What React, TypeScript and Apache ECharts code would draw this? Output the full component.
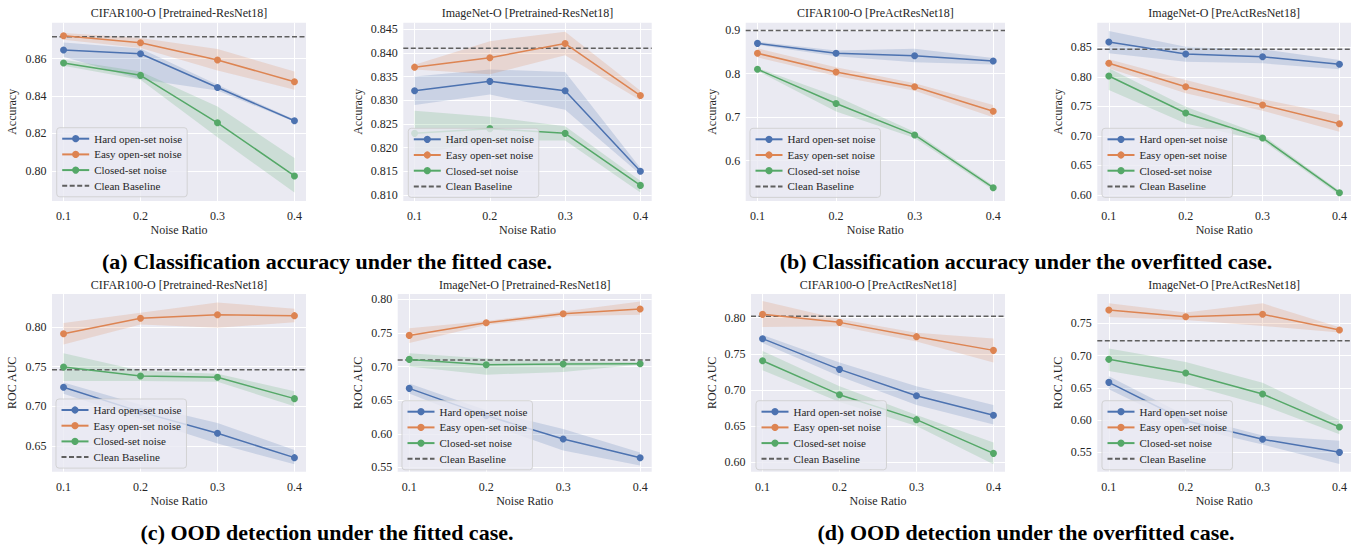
import React, { useEffect, useRef } from "react";
import * as echarts from "echarts";

const FONT = "'Liberation Serif', 'Times New Roman', serif";
const TEXT = "#262626";
const BLUE = "#4C72B0";
const ORANGE = "#DD8452";
const GREEN = "#55A868";
const BASE = "#5f5f5f";

// ---- shared data ----
const noiseRatios = [0.1, 0.2, 0.3, 0.4];
const xRange = [0.085, 0.415];
const hardName = "Hard open-set noise";
const easyName = "Easy open-set noise";
const closedName = "Closed-set noise";
const baselineName = "Clean Baseline";

// ---- (a) accuracy, fitted: CIFAR100-O [Pretrained-ResNet18] ----
const accFitCifarHard = [0.8647, 0.8627, 0.8446, 0.8268];
const accFitCifarHardBand = [[0.861, 0.8687], [0.849, 0.8655], [0.843, 0.846], [0.8262, 0.8274]];
const accFitCifarEasy = [0.8723, 0.8686, 0.8593, 0.8477];
const accFitCifarEasyBand = [[0.8702, 0.8738], [0.8657, 0.8711], [0.8537, 0.8652], [0.8434, 0.8532]];
const accFitCifarClosed = [0.8577, 0.8511, 0.8257, 0.7972];
const accFitCifarClosedBand = [[0.8562, 0.8595], [0.8487, 0.8532], [0.818, 0.8344], [0.7883, 0.8068]];
const accFitCifarBaseline = 0.8718;
const accFitCifarY = [0.7838, 0.8793];
const accFitCifarTicks = [0.8, 0.82, 0.84, 0.86];

// ---- (a) accuracy, fitted: ImageNet-O [Pretrained-ResNet18] ----
const accFitImgHard = [0.832, 0.834, 0.832, 0.815];
const accFitImgHardBand = [[0.829, 0.835], [0.8312, 0.8365], [0.828, 0.836], [0.8143, 0.8157]];
const accFitImgEasy = [0.837, 0.839, 0.842, 0.831];
const accFitImgEasyBand = [[0.8365, 0.8375], [0.8355, 0.8425], [0.8395, 0.8445], [0.83, 0.832]];
const accFitImgClosed = [0.823, 0.824, 0.823, 0.812];
const accFitImgClosedBand = [[0.8185, 0.8278], [0.8215, 0.8265], [0.8215, 0.8245], [0.8105, 0.813]];
const accFitImgBaseline = 0.841;
const accFitImgY = [0.8087, 0.8464];
const accFitImgTicks = [0.81, 0.815, 0.82, 0.825, 0.83, 0.835, 0.84, 0.845];

// ---- (b) accuracy, overfitted: CIFAR100-O [PreActResNet18] ----
const accOverCifarHard = [0.8694, 0.8465, 0.841, 0.8288];
const accOverCifarHardBand = [[0.866, 0.873], [0.84, 0.853], [0.826, 0.857], [0.821, 0.836]];
const accOverCifarEasy = [0.8465, 0.8037, 0.7698, 0.7137];
const accOverCifarEasyBand = [[0.8373, 0.858], [0.7945, 0.8144], [0.7607, 0.7776], [0.6996, 0.7279]];
const accOverCifarClosed = [0.8099, 0.7312, 0.6592, 0.538];
const accOverCifarClosedBand = [[0.806, 0.813], [0.713, 0.748], [0.652, 0.666], [0.533, 0.543]];
const accOverCifarBaseline = 0.899;
const accOverCifarY = [0.5075, 0.9168];
const accOverCifarTicks = [0.6, 0.7, 0.8, 0.9];

// ---- (b) accuracy, overfitted: ImageNet-O [PreActResNet18] ----
const accOverImgHard = [0.859, 0.8387, 0.8341, 0.8212];
const accOverImgHardBand = [[0.8398, 0.8776], [0.8256, 0.851], [0.8229, 0.8466], [0.8128, 0.8285]];
const accOverImgEasy = [0.8229, 0.7833, 0.7523, 0.7207];
const accOverImgEasyBand = [[0.8144, 0.8297], [0.7721, 0.7946], [0.7428, 0.762], [0.7071, 0.7354]];
const accOverImgClosed = [0.8014, 0.7388, 0.6965, 0.6039];
const accOverImgClosedBand = [[0.7777, 0.8145], [0.7212, 0.7494], [0.6919, 0.7015], [0.6, 0.6073]];
const accOverImgBaseline = 0.8466;
const accOverImgY = [0.5898, 0.8917];
const accOverImgTicks = [0.6, 0.65, 0.7, 0.75, 0.8, 0.85];

// ---- (c) OOD, fitted: CIFAR100-O [Pretrained-ResNet18] ----
const aucFitCifarHard = [0.724, 0.693, 0.666, 0.6353];
const aucFitCifarHardBand = [[0.716, 0.73], [0.684, 0.702], [0.653, 0.679], [0.627, 0.645]];
const aucFitCifarEasy = [0.7916, 0.811, 0.8155, 0.8143];
const aucFitCifarEasyBand = [[0.778, 0.805], [0.803, 0.818], [0.799, 0.831], [0.806, 0.823]];
const aucFitCifarClosed = [0.7496, 0.7382, 0.7366, 0.7097];
const aucFitCifarClosedBand = [[0.732, 0.767], [0.732, 0.745], [0.731, 0.741], [0.7, 0.719]];
const aucFitCifarBaseline = 0.7462;
const aucFitCifarY = [0.6176, 0.8416];
const aucFitCifarTicks = [0.65, 0.7, 0.75, 0.8];

// ---- (c) OOD, fitted: ImageNet-O [Pretrained-ResNet18] ----
const aucFitImgHard = [0.6676, 0.627, 0.5922, 0.5644];
const aucFitImgHardBand = [[0.66, 0.675], [0.615, 0.635], [0.575, 0.607], [0.553, 0.572]];
const aucFitImgEasy = [0.7464, 0.7653, 0.7787, 0.7856];
const aucFitImgEasyBand = [[0.735, 0.757], [0.762, 0.768], [0.775, 0.782], [0.777, 0.797]];
const aucFitImgClosed = [0.7107, 0.7028, 0.7038, 0.7043];
const aucFitImgClosedBand = [[0.7, 0.72], [0.688, 0.712], [0.692, 0.708], [0.703, 0.707]];
const aucFitImgBaseline = 0.7097;
const aucFitImgY = [0.5436, 0.808];
const aucFitImgTicks = [0.55, 0.6, 0.65, 0.7, 0.75, 0.8];

// ---- (d) OOD, overfitted: CIFAR100-O [PreActResNet18] ----
const aucOverCifarHard = [0.7709, 0.7284, 0.6919, 0.6647];
const aucOverCifarHardBand = [[0.765, 0.776], [0.719, 0.738], [0.679, 0.705], [0.652, 0.679]];
const aucOverCifarEasy = [0.8046, 0.7935, 0.7737, 0.7547];
const aucOverCifarEasyBand = [[0.787, 0.823], [0.788, 0.798], [0.767, 0.779], [0.738, 0.771]];
const aucOverCifarClosed = [0.7404, 0.6933, 0.6587, 0.612];
const aucOverCifarClosedBand = [[0.727, 0.754], [0.683, 0.705], [0.65, 0.665], [0.597, 0.627]];
const aucOverCifarBaseline = 0.8018;
const aucOverCifarY = [0.5866, 0.8328];
const aucOverCifarTicks = [0.6, 0.65, 0.7, 0.75, 0.8];

// ---- (d) OOD, overfitted: ImageNet-O [PreActResNet18] ----
const aucOverImgHard = [0.6585, 0.599, 0.5702, 0.55];
const aucOverImgHardBand = [[0.648, 0.668], [0.59, 0.607], [0.562, 0.576], [0.532, 0.568]];
const aucOverImgEasy = [0.7707, 0.7603, 0.764, 0.7397];
const aucOverImgEasyBand = [[0.76, 0.781], [0.755, 0.767], [0.746, 0.781], [0.736, 0.744]];
const aucOverImgClosed = [0.6942, 0.673, 0.6404, 0.5893];
const aucOverImgClosedBand = [[0.676, 0.711], [0.656, 0.69], [0.623, 0.658], [0.578, 0.6]];
const aucOverImgBaseline = 0.7231;
const aucOverImgY = [0.52, 0.7955];
const aucOverImgTicks = [0.55, 0.6, 0.65, 0.7, 0.75];

const panelTitles = [
  "CIFAR100-O [Pretrained-ResNet18]",
  "ImageNet-O [Pretrained-ResNet18]",
  "CIFAR100-O [PreActResNet18]",
  "ImageNet-O [PreActResNet18]",
  "CIFAR100-O [Pretrained-ResNet18]",
  "ImageNet-O [Pretrained-ResNet18]",
  "CIFAR100-O [PreActResNet18]",
  "ImageNet-O [PreActResNet18]",
];
const yAxisNames = ["Accuracy", "Accuracy", "Accuracy", "Accuracy", "ROC AUC", "ROC AUC", "ROC AUC", "ROC AUC"];
const tickDecimals = [2, 3, 1, 2, 2, 2, 2, 2];
const captions = [
  "(a) Classification accuracy under the fitted case.",
  "(b) Classification accuracy under the overfitted case.",
  "(c) OOD detection under the fitted case.",
  "(d) OOD detection under the overfitted case.",
];

const panels = [
  { hard: accFitCifarHard, hardBand: accFitCifarHardBand, easy: accFitCifarEasy, easyBand: accFitCifarEasyBand, closed: accFitCifarClosed, closedBand: accFitCifarClosedBand, baseline: accFitCifarBaseline, yRange: accFitCifarY, ticks: accFitCifarTicks },
  { hard: accFitImgHard, hardBand: accFitImgHardBand, easy: accFitImgEasy, easyBand: accFitImgEasyBand, closed: accFitImgClosed, closedBand: accFitImgClosedBand, baseline: accFitImgBaseline, yRange: accFitImgY, ticks: accFitImgTicks },
  { hard: accOverCifarHard, hardBand: accOverCifarHardBand, easy: accOverCifarEasy, easyBand: accOverCifarEasyBand, closed: accOverCifarClosed, closedBand: accOverCifarClosedBand, baseline: accOverCifarBaseline, yRange: accOverCifarY, ticks: accOverCifarTicks },
  { hard: accOverImgHard, hardBand: accOverImgHardBand, easy: accOverImgEasy, easyBand: accOverImgEasyBand, closed: accOverImgClosed, closedBand: accOverImgClosedBand, baseline: accOverImgBaseline, yRange: accOverImgY, ticks: accOverImgTicks },
  { hard: aucFitCifarHard, hardBand: aucFitCifarHardBand, easy: aucFitCifarEasy, easyBand: aucFitCifarEasyBand, closed: aucFitCifarClosed, closedBand: aucFitCifarClosedBand, baseline: aucFitCifarBaseline, yRange: aucFitCifarY, ticks: aucFitCifarTicks },
  { hard: aucFitImgHard, hardBand: aucFitImgHardBand, easy: aucFitImgEasy, easyBand: aucFitImgEasyBand, closed: aucFitImgClosed, closedBand: aucFitImgClosedBand, baseline: aucFitImgBaseline, yRange: aucFitImgY, ticks: aucFitImgTicks },
  { hard: aucOverCifarHard, hardBand: aucOverCifarHardBand, easy: aucOverCifarEasy, easyBand: aucOverCifarEasyBand, closed: aucOverCifarClosed, closedBand: aucOverCifarClosedBand, baseline: aucOverCifarBaseline, yRange: aucOverCifarY, ticks: aucOverCifarTicks },
  { hard: aucOverImgHard, hardBand: aucOverImgHardBand, easy: aucOverImgEasy, easyBand: aucOverImgEasyBand, closed: aucOverImgClosed, closedBand: aucOverImgClosedBand, baseline: aucOverImgBaseline, yRange: aucOverImgY, ticks: aucOverImgTicks },
];

// ---- layout (positions only) ----
const layouts = [
  { left: 52, top: 22.7, width: 254, height: 178.3, yNameGap: 34, legendLeft: 56.7, legendTop: 127.7 },
  { left: 403.3, top: 22.7, width: 248.4, height: 178.3, yNameGap: 39, legendLeft: 408.3, legendTop: 128.3 },
  { left: 745.7, top: 22.7, width: 259.3, height: 178.3, yNameGap: 28, legendLeft: 750, legendTop: 128.3 },
  { left: 1097.3, top: 22.7, width: 253.7, height: 178.3, yNameGap: 33, legendLeft: 1102, legendTop: 128.3 },
  { left: 52, top: 294, width: 254, height: 177.7, yNameGap: 34.3, legendLeft: 56, legendTop: 399 },
  { left: 397.7, top: 294, width: 254, height: 177.7, yNameGap: 33.4, legendLeft: 402, legendTop: 400.7 },
  { left: 751, top: 294, width: 254, height: 177.7, yNameGap: 33.3, legendLeft: 756, legendTop: 400.7 },
  { left: 1097.3, top: 294, width: 253.7, height: 177.7, yNameGap: 33, legendLeft: 1102, legendTop: 400.7 },
];
const captionPos = [
  { x: 327, y: 261.6 },
  { x: 1026, y: 261.6 },
  { x: 327, y: 532.9 },
  { x: 1026, y: 532.9 },
];

function hexToRgba(hex: string, a: number) {
  const n = parseInt(hex.slice(1), 16);
  return `rgba(${(n >> 16) & 255},${(n >> 8) & 255},${n & 255},${a})`;
}

function bandSeries(i: number, band: number[][], color: string) {
  return {
    type: "custom",
    xAxisIndex: i,
    yAxisIndex: i,
    silent: true,
    z: 1,
    data: noiseRatios.map((x, k) => [x, band[k][0], band[k][1]]),
    encode: { x: 0, y: [1, 2] },
    renderItem: (params: any, api: any) => {
      if (params.dataIndex !== 0) return null;
      const upper = band.map((b, k) => api.coord([noiseRatios[k], b[1]]));
      const lower = band.map((b, k) => api.coord([noiseRatios[k], b[0]])).reverse();
      return {
        type: "polygon",
        shape: { points: [...upper, ...lower] },
        style: { fill: hexToRgba(color, 0.2), stroke: "none" },
      };
    },
  };
}

function lineSeries(i: number, name: string, vals: number[], color: string) {
  return {
    type: "line",
    name,
    xAxisIndex: i,
    yAxisIndex: i,
    silent: true,
    z: 3,
    data: noiseRatios.map((x, k) => [x, vals[k]]),
    symbol: "circle",
    symbolSize: 7,
    showAllSymbol: true,
    lineStyle: { color, width: 1.5 },
    itemStyle: { color },
  };
}

function buildOption() {
  const grid: any[] = [];
  const xAxis: any[] = [];
  const yAxis: any[] = [];
  const legend: any[] = [];
  const series: any[] = [];
  const graphic: any[] = [];

  panels.forEach((p, i) => {
    const l = layouts[i];
    grid.push({
      left: l.left,
      top: l.top,
      width: l.width,
      height: l.height,
      show: true,
      backgroundColor: "#EAEAF2",
      borderWidth: 0,
      containLabel: false,
      outerBoundsMode: "none",
    });
    xAxis.push({
      type: "value",
      gridIndex: i,
      min: xRange[0],
      max: xRange[1],
      axisLine: { show: false },
      axisTick: { show: false, customValues: noiseRatios },
      axisLabel: {
        customValues: noiseRatios,
        formatter: (v: number) => v.toFixed(1),
        margin: 9,
        fontFamily: FONT,
        fontSize: 12,
        color: TEXT,
      },
      splitLine: { show: true, lineStyle: { color: "#ffffff", width: 1 } },
      name: "Noise Ratio",
      nameLocation: "middle",
      nameGap: 23.4,
      nameTextStyle: { fontFamily: FONT, fontSize: 12, color: TEXT },
    });
    const dec = tickDecimals[i];
    yAxis.push({
      type: "value",
      gridIndex: i,
      min: p.yRange[0],
      max: p.yRange[1],
      axisLine: { show: false },
      axisTick: { show: false, customValues: p.ticks },
      axisLabel: {
        customValues: p.ticks,
        formatter: (v: number) => v.toFixed(dec),
        margin: 5.5,
        fontFamily: FONT,
        fontSize: 12,
        color: TEXT,
      },
      splitLine: { show: true, lineStyle: { color: "#ffffff", width: 1 } },
      name: yAxisNames[i],
      nameLocation: "middle",
      nameRotate: 90,
      nameGap: l.yNameGap,
      nameTextStyle: { fontFamily: FONT, fontSize: 12, color: TEXT },
    });
    legend.push({
      show: true,
      orient: "vertical",
      left: l.legendLeft,
      top: l.legendTop,
      data: [hardName, easyName, closedName, { name: baselineName, itemStyle: { opacity: 0 } }],
      itemWidth: 27,
      itemHeight: 9,
      itemGap: 4.7,
      padding: [5.5, 5, 5.5, 4.5],
      backgroundColor: "rgba(234,234,242,0.8)",
      borderColor: "rgba(204,204,204,0.8)",
      borderWidth: 1,
      borderRadius: 3,
      selectedMode: false,
      textStyle: { fontFamily: FONT, fontSize: 11, color: TEXT },
    });
    series.push(bandSeries(i, p.hardBand, BLUE));
    series.push(bandSeries(i, p.easyBand, ORANGE));
    series.push(bandSeries(i, p.closedBand, GREEN));
    series.push(lineSeries(i, hardName, p.hard, BLUE));
    series.push(lineSeries(i, easyName, p.easy, ORANGE));
    series.push(lineSeries(i, closedName, p.closed, GREEN));
    series.push({
      type: "line",
      name: baselineName,
      xAxisIndex: i,
      yAxisIndex: i,
      silent: true,
      z: 2,
      data: [[xRange[0], p.baseline], [xRange[1], p.baseline]],
      symbol: "none",
      lineStyle: { color: BASE, width: 1.5, type: [5, 2.5] },
      itemStyle: { color: BASE },
    });
    graphic.push({
      type: "text",
      x: l.left + l.width / 2,
      y: i < 4 ? 13.25 : 285,
      silent: true,
      style: {
        text: panelTitles[i],
        fontFamily: FONT,
        fontSize: 12,
        fill: TEXT,
        align: "center",
        verticalAlign: "middle",
      },
    });
  });

  captions.forEach((c, k) => {
    graphic.push({
      type: "text",
      x: captionPos[k].x,
      y: captionPos[k].y,
      silent: true,
      style: {
        text: c,
        fontFamily: FONT,
        fontSize: 22,
        fontWeight: "bold",
        fill: "#000000",
        align: "center",
        verticalAlign: "middle",
      },
    });
  });

  return { animation: false, backgroundColor: "#ffffff", grid, xAxis, yAxis, legend, series, graphic };
}

export default function App() {
  const ref = useRef<HTMLDivElement>(null);
  useEffect(() => {
    if (!ref.current) return;
    const chart = echarts.init(ref.current, undefined, { renderer: "svg" });
    chart.setOption(buildOption() as any);
    return () => chart.dispose();
  }, []);
  return (
    <div
      ref={ref}
      style={{ position: "absolute", left: 0, top: 0, width: 1359, height: 546, background: "#ffffff" }}
    />
  );
}
